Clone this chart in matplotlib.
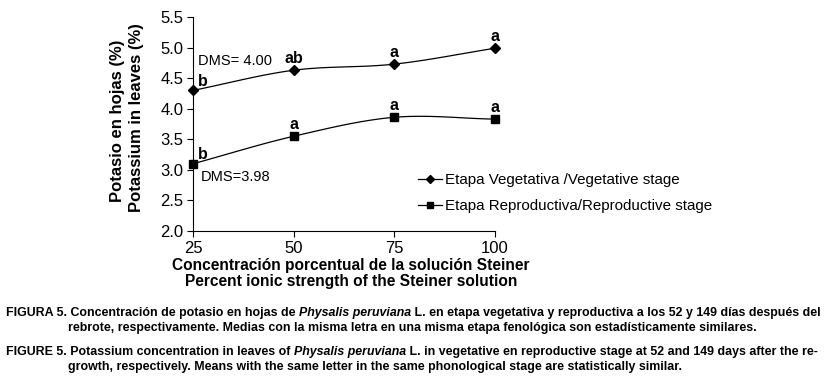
import numpy as np
import matplotlib
matplotlib.use("Agg")
import matplotlib.pyplot as plt

x_vals = [25, 50, 75, 100]
veg = [4.30, 4.63, 4.73, 4.99]
rep = [3.10, 3.55, 3.86, 3.83]
veg_letters = ["b", "ab", "a", "a"]
rep_letters = ["b", "a", "a", "a"]
yticks = [2.0, 2.5, 3.0, 3.5, 4.0, 4.5, 5.0, 5.5]
xticks = [25, 50, 75, 100]

def smooth(xs, ys, n=30):
    xs = np.asarray(xs, float); ys = np.asarray(ys, float)
    px = np.concatenate([[2*xs[0]-xs[1]], xs, [2*xs[-1]-xs[-2]]])
    py = np.concatenate([[2*ys[0]-ys[1]], ys, [2*ys[-1]-ys[-2]]])
    outx, outy = [], []
    for i in range(1, len(px)-2):
        t = np.linspace(0, 1, n)
        for arr, out in ((px, outx), (py, outy)):
            p0, p1, p2, p3 = arr[i-1], arr[i], arr[i+1], arr[i+2]
            out.extend(0.5*((2*p1) + (-p0+p2)*t + (2*p0-5*p1+4*p2-p3)*t**2 + (-p0+3*p1-3*p2+p3)*t**3))
    return outx, outy

plt.rcParams['font.family'] = ['Liberation Sans', 'DejaVu Sans']

fig = plt.figure(figsize=(8.25, 3.79), dpi=100)
ax = fig.add_axes([0.234, 0.3905, 0.366, 0.5645])

sx, sy = smooth(x_vals, veg)
ax.plot(sx, sy, color='black', lw=0.9)
l1, = ax.plot(x_vals, veg, 'D', color='black', ms=5.5, clip_on=False)
sx, sy = smooth(x_vals, rep)
ax.plot(sx, sy, color='black', lw=0.9)
l2, = ax.plot(x_vals, rep, 's', color='black', ms=6, clip_on=False)

for xv, yv, t in zip(x_vals, veg, veg_letters):
    ax.text(xv + (1.2 if xv == 25 else 0), yv + (0.07 if xv != 25 else 0.03), t,
            ha='left' if xv == 25 else 'center', va='bottom', fontsize=11.5, fontweight='bold')
for xv, yv, t in zip(x_vals, rep, rep_letters):
    ax.text(xv + (1.2 if xv == 25 else 0), yv + (0.07 if xv != 25 else 0.03), t,
            ha='left' if xv == 25 else 'center', va='bottom', fontsize=11.5, fontweight='bold')

ax.text(26.2, 4.78, "DMS= 4.00", fontsize=10.5, va='center')
ax.text(26.8, 2.88, "DMS=3.98", fontsize=10.5, va='center')

ax.set_xlim(25, 100)
ax.set_ylim(2.0, 5.5)
ax.set_xticks(xticks)
ax.set_yticks(yticks)
ax.set_yticklabels([f"{v:.1f}" for v in yticks], fontsize=12)
ax.set_xticklabels([str(v) for v in xticks], fontsize=12)
ax.spines['top'].set_visible(False)
ax.spines['right'].set_visible(False)
ax.tick_params(direction='out', length=4, width=0.8, pad=3)

fig.text(0.143, 0.68, "Potasio en hojas (%)", rotation=90, ha='center', va='center', fontsize=12, fontweight='bold')
fig.text(0.166, 0.69, "Potassium in leaves (%)", rotation=90, ha='center', va='center', fontsize=12, fontweight='bold')
fig.text(0.4255, 0.300, "Concentración porcentual de la solución Steiner", ha='center', va='center', fontsize=11.2, fontweight='bold')
fig.text(0.4255, 0.257, "Percent ionic strength of the Steiner solution", ha='center', va='center', fontsize=11.2, fontweight='bold')

fig.legend([l1, l2], ["Etapa Vegetativa /Vegetative stage", "Etapa Reproductiva/Reproductive stage"],
           loc='center left', bbox_to_anchor=(0.49, 0.49), frameon=False, fontsize=10.9,
           handlelength=1.6, handletextpad=0.2, labelspacing=0.8, markerscale=0.8)
for h in fig.legends[0].legend_handles:
    h.set_linestyle('-'); h.set_linewidth(0.9)

# caption, built from segments so the species name can be italic
fs = 8.9
renderer = fig.canvas.get_renderer()
def seg_line(x0_px, y_frac, segments):
    x = x0_px
    for txt, style in segments:
        t = fig.text(x / 825, y_frac, txt, fontsize=fs, va='center', fontweight='bold',
                     style=style)
        bb = t.get_window_extent(renderer)
        x = bb.x1

seg_line(6, 0.174, [("FIGURA 5. Concentración de potasio en hojas de ", 'normal'),
                    ("Physalis peruviana", 'italic'),
                    (" L. en etapa vegetativa y reproductiva a los 52 y 149 días después del", 'normal')])
seg_line(68, 0.134, [("rebrote, respectivamente. Medias con la misma letra en una misma etapa fenológica son estadísticamente similares.", 'normal')])
seg_line(6, 0.071, [("FIGURE 5. Potassium concentration in leaves of ", 'normal'),
                    ("Physalis peruviana", 'italic'),
                    (" L. in vegetative en reproductive stage at 52 and 149 days after the re-", 'normal')])
seg_line(68, 0.032, [("growth, respectively. Means with the same letter in the same phonological stage are statistically similar.", 'normal')])

fig.savefig("out.png", dpi=100)
